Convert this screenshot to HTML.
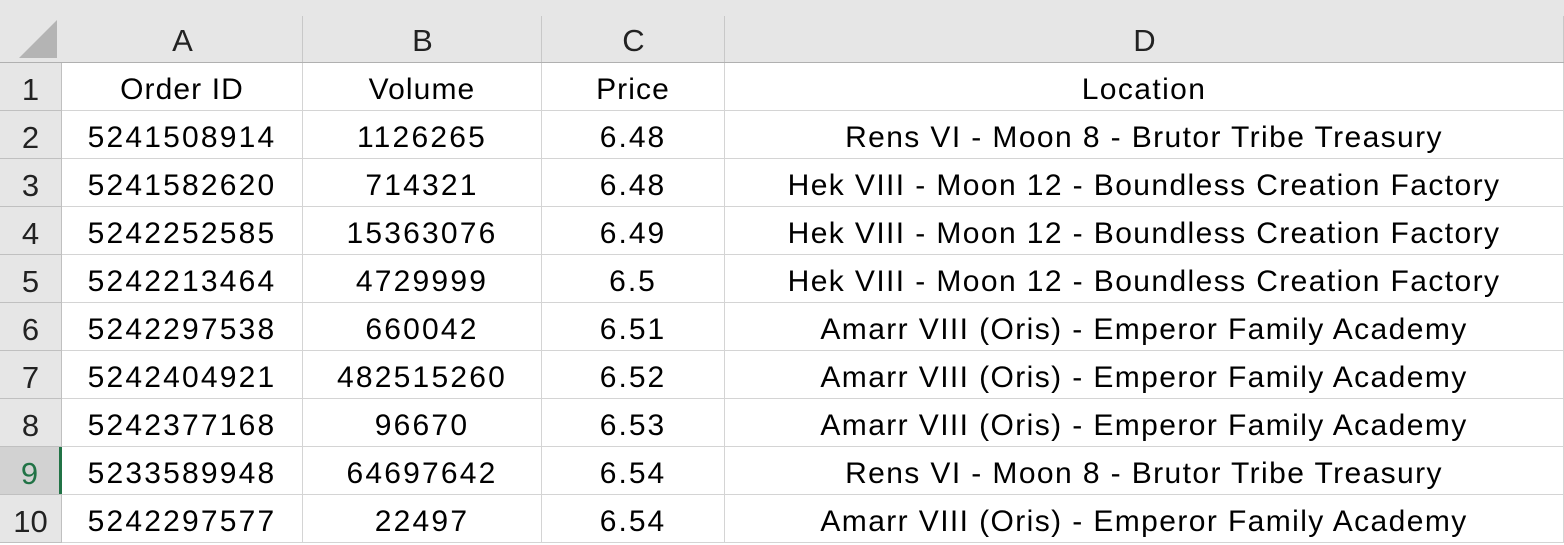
<!DOCTYPE html>
<html><head><meta charset="utf-8"><style>
html,body{margin:0;padding:0;width:1564px;height:545px;overflow:hidden;background:#fff;font-family:"Liberation Sans",sans-serif;}
.c{position:absolute;box-sizing:border-box;display:flex;align-items:center;justify-content:center;font-size:30px;color:#000;white-space:nowrap;}
.h{background:#e6e6e6;color:#222;}
.ln{position:absolute;background:#d4d4d4;}
</style></head><body>
<div id="sheet"></div>
<script>
const cols=[["A",62,303],["B",303,542],["C",542,725],["D",725,1564]];
const ls=[2.2,2.2,2,1.4];
const rows=[["Order ID","Volume","Price","Location"],
["5241508914","1126265","6.48","Rens VI - Moon 8 - Brutor Tribe Treasury"],
["5241582620","714321","6.48","Hek VIII - Moon 12 - Boundless Creation Factory"],
["5242252585","15363076","6.49","Hek VIII - Moon 12 - Boundless Creation Factory"],
["5242213464","4729999","6.5","Hek VIII - Moon 12 - Boundless Creation Factory"],
["5242297538","660042","6.51","Amarr VIII (Oris) - Emperor Family Academy"],
["5242404921","482515260","6.52","Amarr VIII (Oris) - Emperor Family Academy"],
["5242377168","96670","6.53","Amarr VIII (Oris) - Emperor Family Academy"],
["5233589948","64697642","6.54","Rens VI - Moon 8 - Brutor Tribe Treasury"],
["5242297577","22497","6.54","Amarr VIII (Oris) - Emperor Family Academy"]];
const s=document.getElementById('sheet');
function add(x,y,w,h,cls,txt,st){const d=document.createElement('div');d.className=cls;d.style.cssText=`left:${x}px;top:${y}px;width:${w}px;height:${h}px;`+(st||'');d.textContent=txt;s.appendChild(d);return d;}
const hb=add(0,0,1564,63,'c h','');


const corner=document.createElement('div');
corner.style.cssText='position:absolute;left:19px;top:20px;width:0;height:0;border-left:38px solid transparent;border-bottom:38px solid #b4b4b4;';


s.appendChild(corner);
cols.forEach(c=>{const d=add(c[1],16,c[2]-c[1],47,'c h',c[0],'padding-top:2px;font-size:31px;');


const l=add(c[2]-1,16,1,47,'ln','','background:#c8c8c8;');

});
const bl=add(0,62,1564,1,'ln','','background:#b0b0b0;');


rows.forEach((r,i)=>{const y=63+48*i;const sel=i===8;
const rh=add(0,y,62,48,'c h',String(i+1),'padding-top:6px;font-size:31px;'+(sel?'background:#d2d2d2;color:#217346;border-right:3px solid #217346;':'border-right:1px solid #c0c0c0;'));


r.forEach((t,j)=>{const c=cols[j];const d=add(c[1],y,c[2]-c[1],48,'c',t,`padding-top:6px;letter-spacing:${i===0&&j<3?1.1:ls[j]}px;border-right:1px solid #d4d4d4;border-bottom:1px solid #d4d4d4;`);

});
const g=add(0,y+47,62,1,'ln','','background:#c0c0c0;');

});
</script>
</body></html>
